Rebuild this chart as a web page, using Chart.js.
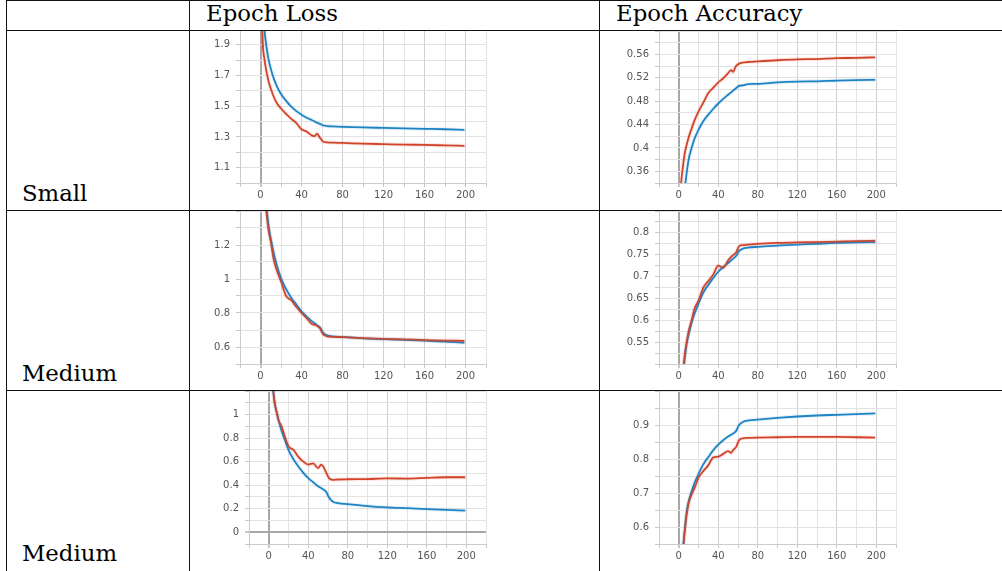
<!DOCTYPE html>
<html>
<head>
<meta charset="utf-8">
<script src="https://cdn.jsdelivr.net/npm/chart.js@4/dist/chart.umd.min.js"></script>
<style>
  html, body { margin: 0; padding: 0; background: #fff; }
  body { width: 1002px; height: 571px; position: relative; overflow: hidden; }
  .line { position: absolute; background: #111; }
  .txt { position: absolute; font-family: 'DejaVu Serif', serif; font-size: 22.8px; line-height: 27px; color: #000; white-space: nowrap; }
  canvas { position: absolute; }
</style>
</head>
<body>
<canvas id="lossSmall"></canvas>
<canvas id="accSmall"></canvas>
<canvas id="lossMedium"></canvas>
<canvas id="accMedium"></canvas>
<canvas id="lossMedium2"></canvas>
<canvas id="accMedium2"></canvas>

<div class="txt" style="left:206px; top:0px">Epoch Loss</div>
<div class="txt" style="left:616px; top:0px">Epoch Accuracy</div>
<div class="txt" style="left:22px; top:180px">Small</div>
<div class="txt" style="left:22px; top:360px">Medium</div>
<div class="txt" style="left:22px; top:540px">Medium</div>

<div class="line" style="left:6px; top:0; width:996px; height:1px"></div>
<div class="line" style="left:6px; top:30px; width:996px; height:1px"></div>
<div class="line" style="left:6px; top:210px; width:996px; height:1px"></div>
<div class="line" style="left:6px; top:390px; width:996px; height:1px"></div>
<div class="line" style="left:6px; top:0; width:1px; height:571px"></div>
<div class="line" style="left:189px; top:0; width:1px; height:571px"></div>
<div class="line" style="left:599px; top:0; width:1px; height:571px"></div>

<script>
// epochs (0 .. 199)
const epochs = [0, 2, 4, 6, 8, 10, 13, 16, 20, 25, 30, 35, 40, 45, 50, 53, 55, 58, 61, 65, 70, 80, 100, 120, 140, 160, 180, 199]

// Small model
const lossSmallRed  = [2.6, 1.95, 1.80, 1.72, 1.66, 1.615, 1.56, 1.52, 1.485, 1.45, 1.418, 1.39, 1.35, 1.335, 1.31, 1.305, 1.322, 1.295, 1.27, 1.265, 1.263, 1.261, 1.256, 1.253, 1.25, 1.248, 1.245, 1.242]
const lossSmallBlue = [2.8, 2.2, 1.99, 1.88, 1.80, 1.745, 1.68, 1.63, 1.58, 1.535, 1.497, 1.468, 1.445, 1.425, 1.41, 1.40, 1.393, 1.385, 1.375, 1.371, 1.369, 1.366, 1.362, 1.359, 1.356, 1.353, 1.35, 1.346]
const accSmallRed   = [0.25, 0.33, 0.365, 0.39, 0.405, 0.418, 0.433, 0.447, 0.462, 0.478, 0.494, 0.503, 0.512, 0.519, 0.528, 0.533, 0.53, 0.54, 0.544, 0.546, 0.547, 0.548, 0.55, 0.5515, 0.552, 0.5535, 0.554, 0.555]
const accSmallBlue  = [0.2, 0.26, 0.30, 0.33, 0.357, 0.38, 0.40, 0.416, 0.431, 0.446, 0.457, 0.467, 0.476, 0.484, 0.491, 0.495, 0.498, 0.502, 0.506, 0.507, 0.509, 0.5095, 0.512, 0.5135, 0.514, 0.5152, 0.516, 0.5165]

// Medium model
const lossMediumRed  = [2.1, 1.8, 1.55, 1.38, 1.28, 1.22, 1.11, 1.05, 0.985, 0.90, 0.875, 0.835, 0.80, 0.77, 0.735, 0.73, 0.725, 0.71, 0.675, 0.663, 0.66, 0.658, 0.652, 0.648, 0.645, 0.641, 0.638, 0.636]
const lossMediumBlue = [2.2, 1.85, 1.6, 1.42, 1.31, 1.24, 1.15, 1.08, 1.005, 0.94, 0.89, 0.85, 0.81, 0.78, 0.752, 0.738, 0.728, 0.715, 0.685, 0.668, 0.663, 0.659, 0.651, 0.646, 0.642, 0.637, 0.632, 0.625]
const accMediumRed   = [0.3, 0.39, 0.47, 0.52, 0.55, 0.575, 0.60, 0.627, 0.645, 0.675, 0.69, 0.705, 0.725, 0.72, 0.737, 0.745, 0.749, 0.755, 0.769, 0.772, 0.773, 0.775, 0.777, 0.778, 0.779, 0.78, 0.781, 0.782]
const accMediumBlue  = [0.3, 0.38, 0.46, 0.51, 0.545, 0.567, 0.594, 0.615, 0.638, 0.664, 0.681, 0.697, 0.711, 0.722, 0.731, 0.737, 0.741, 0.747, 0.758, 0.764, 0.766, 0.768, 0.771, 0.773, 0.775, 0.777, 0.778, 0.779]

// Medium model, second run
const lossMedium2Red  = [1.8, 1.5, 1.25, 1.1, 1.02, 0.95, 0.90, 0.82, 0.73, 0.70, 0.64, 0.60, 0.575, 0.585, 0.545, 0.575, 0.56, 0.51, 0.46, 0.445, 0.448, 0.45, 0.452, 0.457, 0.456, 0.462, 0.467, 0.467]
const lossMedium2Blue = [1.8, 1.5, 1.25, 1.1, 1.02, 0.95, 0.86, 0.79, 0.70, 0.62, 0.558, 0.505, 0.46, 0.425, 0.39, 0.375, 0.365, 0.345, 0.295, 0.26, 0.248, 0.238, 0.222, 0.211, 0.204, 0.197, 0.19, 0.183]
const accMedium2Red   = [0.3, 0.42, 0.52, 0.585, 0.635, 0.67, 0.695, 0.715, 0.745, 0.765, 0.782, 0.805, 0.807, 0.815, 0.823, 0.818, 0.826, 0.835, 0.855, 0.861, 0.862, 0.863, 0.864, 0.865, 0.865, 0.865, 0.864, 0.863]
const accMedium2Blue  = [0.3, 0.42, 0.52, 0.59, 0.645, 0.675, 0.705, 0.73, 0.756, 0.785, 0.806, 0.826, 0.842, 0.855, 0.866, 0.871, 0.875, 0.882, 0.9, 0.909, 0.913, 0.916, 0.921, 0.925, 0.928, 0.93, 0.932, 0.934]

// tick labels
const xTicks = [0, 40, 80, 120, 160, 200]
const lossSmallTicks = [1.1, 1.3, 1.5, 1.7, 1.9]
const accSmallTicks = [0.36, 0.4, 0.44, 0.48, 0.52, 0.56]
const lossMediumTicks = [0.6, 0.8, 1, 1.2]
const accMediumTicks = [0.55, 0.6, 0.65, 0.7, 0.75, 0.8]
const lossMedium2Ticks = [0, 0.2, 0.4, 0.6, 0.8, 1]
const accMedium2Ticks = [0.6, 0.7, 0.8, 0.9]

const RED = '#d2452a'
const BLUE = '#1d84c6'

function pontos(valores) {
    return epochs.map((e, i) => ({ x: e, y: valores[i] }))
}

function passos(min, max, passo) {
    let lista = []
    for (let v = min; v <= max + 1e-9; v += passo) {
        lista.push(Math.round(v * 10000) / 10000)
    }
    return lista
}

function temLabel(lista, v) {
    return lista.some(t => Math.abs(t - v) < 1e-6)
}

function criaGrafico(id, caixa, escala, vermelho, azul) {
    const canvas = document.getElementById(id)
    const larguraY = 50
    const alturaX = 24
    const w = caixa.right - caixa.left
    const h = caixa.bottom - caixa.top
    canvas.style.left = (caixa.left - larguraY) + 'px'
    canvas.style.top = caixa.top + 'px'
    canvas.style.width = (w + larguraY + 10) + 'px'
    canvas.style.height = (h + alturaX) + 'px'
    canvas.width = w + larguraY + 10
    canvas.height = h + alturaX

    const yMinor = passos(escala.min, escala.max, escala.passo)
    const xMinor = passos(-20, 220, 20)

    const linha = (dados, cor, largura) => ({
        data: pontos(dados),
        borderColor: cor,
        borderWidth: largura,
        pointRadius: 0,
        fill: false,
        cubicInterpolationMode: 'monotone',
        clip: 0
    })

    return new Chart(canvas, {
        type: 'line',
        data: {
            datasets: [
                linha(vermelho, 'rgba(213,69,42,0.12)', 4),
                linha(azul, 'rgba(29,132,198,0.10)', 4),
                linha(vermelho, RED, 1.8),
                linha(azul, BLUE, 1.8)
            ]
        },
        options: {
            responsive: false,
            animation: false,
            events: [],
            layout: { padding: { left: 0, right: 10, top: 0, bottom: 0 } },
            plugins: { legend: { display: false }, tooltip: { enabled: false } },
            scales: {
                x: {
                    type: 'linear',
                    min: -20,
                    max: 220,
                    afterBuildTicks: s => { s.ticks = xMinor.map(v => ({ value: v })) },
                    afterFit: s => { s.height = alturaX; s.paddingLeft = 0; s.paddingRight = 0 },
                    border: { color: '#cccccc' },
                    grid: {
                        color: c => c.tick.value === 0 ? '#a8a8a8' : (c.tick.value % 40 === 0 ? '#cfcfcf' : '#e4e4e4'),
                        lineWidth: c => c.tick.value === 0 ? 2 : 1,
                        tickColor: '#c8c8c8',
                        tickLength: 4
                    },
                    ticks: {
                        autoSkip: false,
                        maxRotation: 0,
                        padding: 2,
                        color: '#555',
                        font: { family: 'DejaVu Sans', size: 10 },
                        callback: v => temLabel(xTicks, v) ? String(v) : ''
                    }
                },
                y: {
                    type: 'linear',
                    min: escala.min,
                    max: escala.max,
                    afterBuildTicks: s => { s.ticks = yMinor.map(v => ({ value: v })) },
                    afterFit: s => { s.width = larguraY; s.paddingTop = 0; s.paddingBottom = 0 },
                    border: { color: '#cccccc' },
                    grid: {
                        color: c => Math.abs(c.tick.value) < 1e-9 ? '#a8a8a8' : '#e2e2e2',
                        lineWidth: c => Math.abs(c.tick.value) < 1e-9 ? 2 : 1,
                        tickColor: '#c8c8c8',
                        tickLength: 4
                    },
                    ticks: {
                        autoSkip: false,
                        padding: 6,
                        color: '#555',
                        font: { family: 'DejaVu Sans', size: 10 },
                        callback: v => temLabel(escala.labels, v) ? String(Math.round(v * 1000) / 1000) : ''
                    }
                }
            }
        }
    })
}

criaGrafico('lossSmall', { left: 240, right: 486, top: 31, bottom: 183 },
    { min: 1.0, max: 1.99, passo: 0.1, labels: lossSmallTicks }, lossSmallRed, lossSmallBlue)
criaGrafico('accSmall', { left: 659, right: 896, top: 31, bottom: 183 },
    { min: 0.34, max: 0.6, passo: 0.02, labels: accSmallTicks }, accSmallRed, accSmallBlue)
criaGrafico('lossMedium', { left: 240, right: 486, top: 211, bottom: 364 },
    { min: 0.5, max: 1.4, passo: 0.1, labels: lossMediumTicks }, lossMediumRed, lossMediumBlue)
criaGrafico('accMedium', { left: 659, right: 896, top: 211, bottom: 364 },
    { min: 0.5, max: 0.85, passo: 0.025, labels: accMediumTicks }, accMediumRed, accMediumBlue)
criaGrafico('lossMedium2', { left: 249, right: 486, top: 391, bottom: 544 },
    { min: -0.1, max: 1.2, passo: 0.1, labels: lossMedium2Ticks }, lossMedium2Red, lossMedium2Blue)
criaGrafico('accMedium2', { left: 659, right: 896, top: 391, bottom: 544 },
    { min: 0.55, max: 1.0, passo: 0.05, labels: accMedium2Ticks }, accMedium2Red, accMedium2Blue)
</script>
</body>
</html>
